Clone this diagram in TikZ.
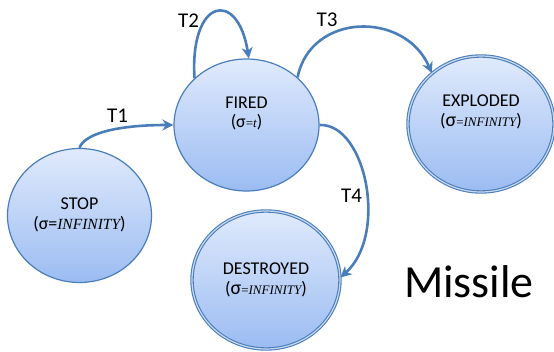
\documentclass[tikz,border=0pt]{standalone}
\usepackage{fontspec}
\setmainfont{Carlito}
\newfontfamily\tnr{Liberation Serif}
\usetikzlibrary{shapes.geometric,arrows.meta}
\definecolor{edgeblue}{RGB}{74,126,187}
\definecolor{filltop}{RGB}{224,234,252}
\definecolor{fillbot}{RGB}{155,188,242}
\definecolor{ringgap}{RGB}{200,216,240}
\begin{document}
\begin{tikzpicture}[x=1pt,y=1pt,
  state/.style={ellipse, draw=edgeblue, line width=1.2pt, top color=filltop,
    bottom color=fillbot, inner sep=0pt},
  finalstate/.style={state, line width=1.1pt, double=ringgap, double distance=1.2pt},
  stext/.style={font=\fontsize{18}{20}\selectfont, anchor=base, inner sep=0pt},
  tlabel/.style={font=\fontsize{21}{24}\selectfont, anchor=base, inner sep=0pt},
  conn/.style={draw=edgeblue, line width=2.6pt,
    -{Stealth[length=11pt,width=11pt,inset=3.5pt]}},
  serifsmall/.style={}]
\useasboundingbox (0,0) rectangle (554,351);

% states
\node[state, minimum width=144pt, minimum height=134pt] (stop) at (79.5,135.5) {};
\node[state, minimum width=145pt, minimum height=132pt] (fired) at (246.5,226) {};
\node[finalstate, minimum width=146pt, minimum height=136pt] (exploded) at (481,227) {};
\node[finalstate, minimum width=148pt, minimum height=138pt] (destroyed) at (266,71) {};

% state texts
\node[stext] (stopA) at ([yshift=5.5pt]stop.center) {STOP};
\node[stext] (stopB) at ([yshift=-14pt]stop.center)
  {(σ=\fontsize{15.5}{18}\selectfont\tnr\itshape INFINITY\upshape\fontsize{18}{20}\selectfont\rmfamily)};
\node[stext] (firedA) at ([yshift=16pt]fired.center) {FIRED};
\node[stext] (firedB) at ([yshift=-2.5pt]fired.center)
  {(σ{\fontsize{13}{15}\selectfont\tnr =\itshape t})};
\node[stext] (explodedA) at ([yshift=17pt]exploded.center) {EXPLODED};
\node[stext] (explodedB) at ([yshift=-2.5pt]exploded.center)
  {({\fontsize{20}{22}\selectfont σ}{\fontsize{13}{15}\selectfont\tnr =\itshape INFINITY})};
\node[stext] (destroyedA) at ([yshift=6pt]destroyed.center) {DESTROYED};
\node[stext] (destroyedB) at ([yshift=-14.5pt]destroyed.center)
  {({\fontsize{20}{22}\selectfont σ}{\fontsize{13}{15}\selectfont\tnr =\itshape INFINITY})};

% connectors
\draw[conn] (stop.90) .. controls +(4.5,13.5) and +(-59,0) .. (fired.180);
\draw[conn] (fired.138) .. controls +(-5,80) and +(-11,70) .. (fired.88);
\draw[conn] (fired.43) .. controls +(13,65) and +(-27,62.5) .. (exploded.134);
\draw[conn] (fired.0) .. controls +(46,2) and +(48,43) .. (destroyed.2);

% transition labels
\node[tlabel] (t1) at (117.5,228) {T1};
\node[tlabel] (t2) at (188.5,323) {T2};
\node[tlabel] (t3) at (327,324) {T3};
\node[tlabel] (t4) at (351.5,148) {T4};

% title
\node[font=\fontsize{46}{50}\selectfont, anchor=base, inner sep=0pt] (title) at (469,54) {Missile};
\end{tikzpicture}
\end{document}
